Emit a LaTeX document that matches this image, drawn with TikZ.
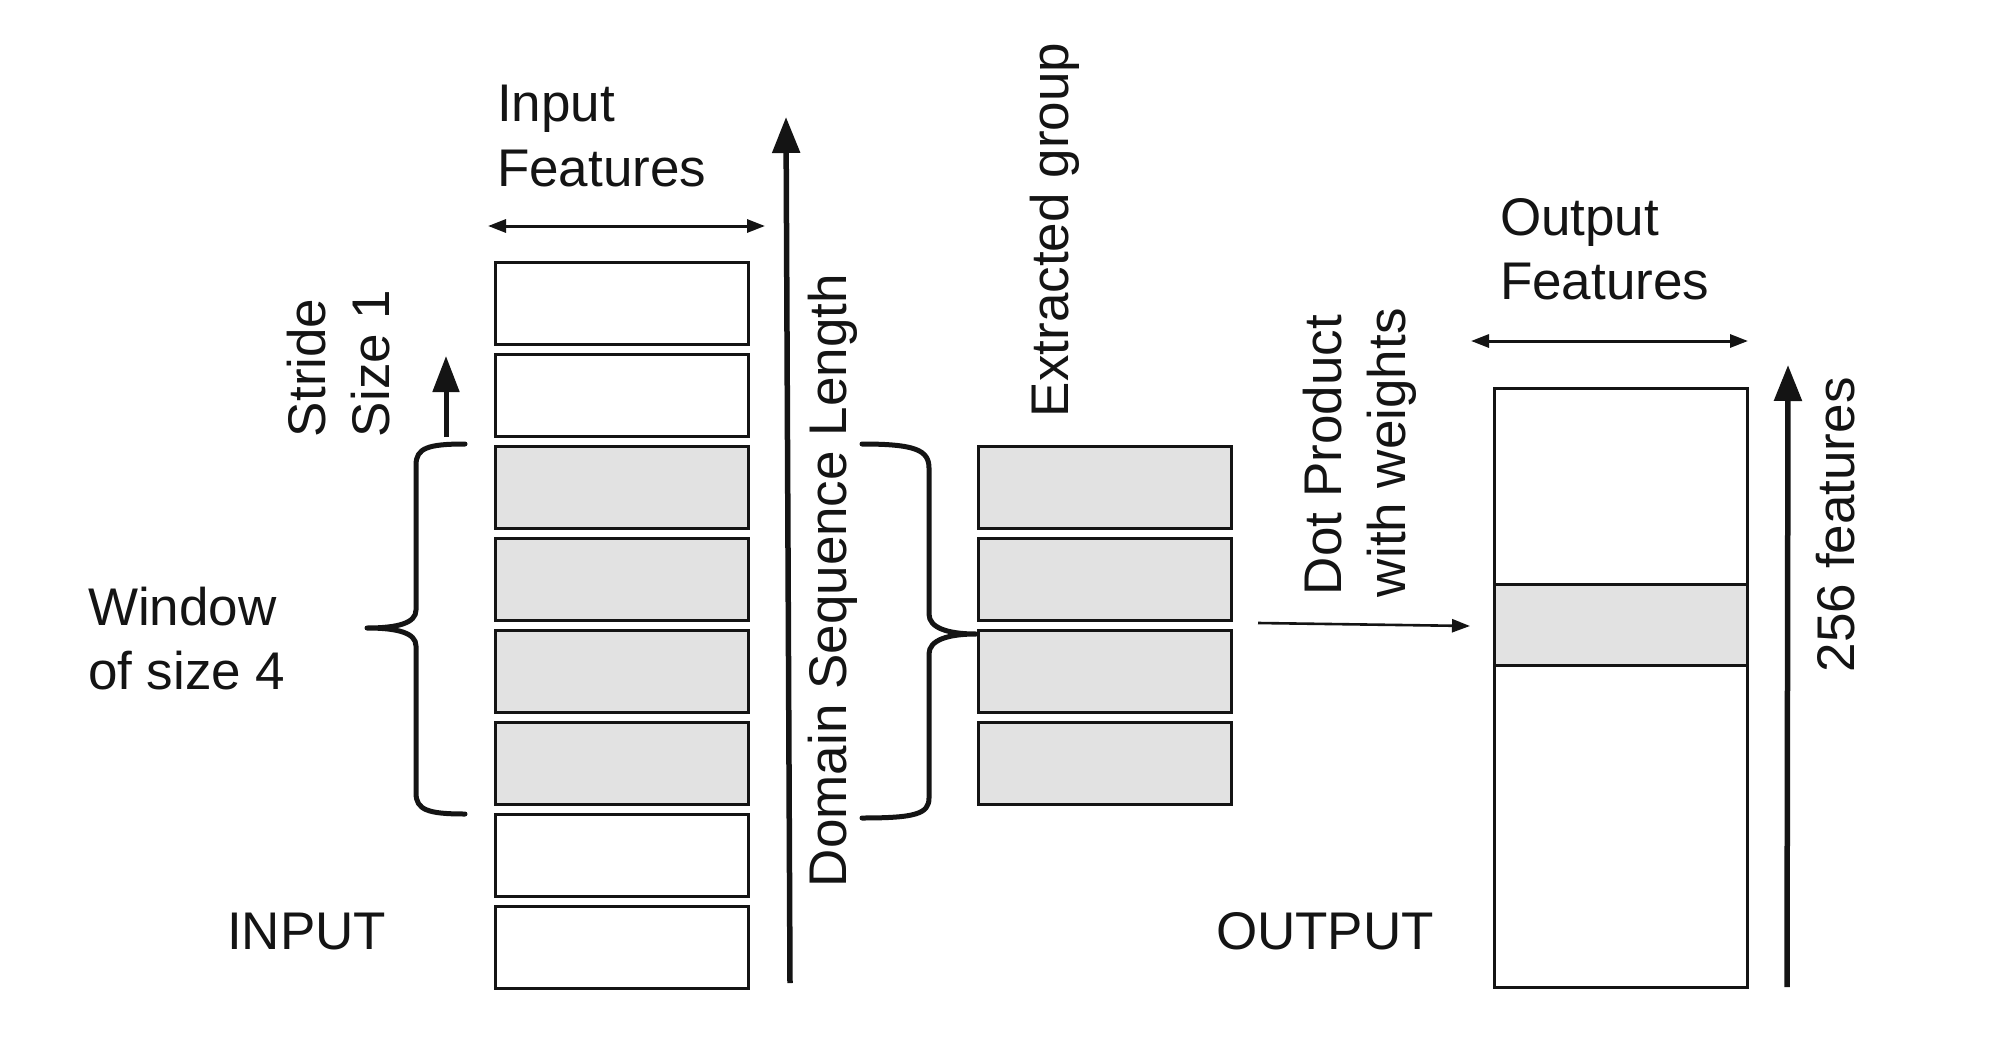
\documentclass[tikz,border=0pt]{standalone}
\usepackage{fontspec}
\setmainfont{Liberation Sans}
\usetikzlibrary{arrows.meta}
\definecolor{ink}{HTML}{141414}
\definecolor{cellgray}{HTML}{E2E2E2}
\begin{document}
\begin{tikzpicture}[x=1pt,y=-1pt,
  lbl/.style={inner sep=0pt, outer sep=0pt, font=\fontsize{53}{64}\selectfont, text=ink},
  hl/.style={lbl, anchor=base west},
  vl/.style={lbl, anchor=base west, rotate=90},
  cell/.style={draw=ink, line width=3.2pt, fill=white, minimum width=252.8pt, minimum height=81.8pt, inner sep=0pt, outer sep=0pt},
  gcell/.style={cell, fill=cellgray},
  outcell/.style={draw=ink, line width=2.8pt, fill=white, minimum width=253.2pt, inner sep=0pt, outer sep=0pt},
  bigarrow/.style={draw=ink, line width=5.5pt, -{Triangle[length=36pt,width=27pt]}},
  midarrow/.style={draw=ink, line width=5pt, -{Triangle[length=36pt,width=26pt]}},
  dimarrow/.style={draw=ink, line width=3pt, {Triangle[length=18pt,width=13pt]}-{Triangle[length=18pt,width=13pt]}},
  thinarrow/.style={draw=ink, line width=2.6pt, -{Triangle[length=18pt,width=13pt]}},
  bracepath/.style={draw=ink, line width=5pt, line cap=round, line join=round}]

\useasboundingbox (0,0) rectangle (1994,1046);
\fill[white] (0,0) rectangle (1994,1046);

% input cells
\node[cell]  (in1) at (622,303.5) {};
\node[cell]  (in2) at (622,395.5) {};
\node[gcell] (in3) at (622,487.5) {};
\node[gcell] (in4) at (622,579.5) {};
\node[gcell] (in5) at (622,671.5) {};
\node[gcell] (in6) at (622,763.5) {};
\node[cell]  (in7) at (622,855.5) {};
\node[cell]  (in8) at (622,947.5) {};

% extracted group
\node[gcell] (ex1) at (1105,487.5) {};
\node[gcell] (ex2) at (1105,579.5) {};
\node[gcell] (ex3) at (1105,671.5) {};
\node[gcell] (ex4) at (1105,763.5) {};

% output
\node[outcell, minimum height=599.2pt] (outbox) at (1621,688) {};
\node[outcell, fill=cellgray, minimum height=81.2pt] (outrow) at (1621,625) {};

% horizontal labels
\node[hl] (inpA) at (497,122) {Input};
\node[hl] (inpB) at (497,186) {Features};
\node[hl] (outA) at (1500,235) {Output};
\node[hl] (outB) at (1500,299) {Features};
\node[hl] (win1) at (88,625) {Window};
\node[hl] (win2) at (88,689) {of size 4};
\node[hl] (inlab) at (227,949) {INPUT};
\node[hl] (outlab) at (1216,949) {OUTPUT};

% rotated labels
\node[vl] (str1) at (325,437) {Stride};
\node[vl] (str2) at (389,437) {Size 1};
\node[vl] (dom) at (846,887) {Domain Sequence Length};
\node[vl] (ext) at (1068,417) {Extracted group};
\node[vl] (dot1) at (1341,595) {Dot Product};
\node[vl] (dot2) at (1405,597) {with weights};
\node[vl] (feat) at (1854,672) {256 features};

% arrow end points
\coordinate (domS) at (790,983);
\coordinate (domE) at (786,117);
\coordinate (strS) at (446,437);
\coordinate (strE) at (446,356);
\coordinate (ofS) at (1787,987);
\coordinate (ofE) at (1788,365);
\coordinate (ifL) at (488,226);
\coordinate (ifR) at (765,226);
\coordinate (ofL) at (1471,341);
\coordinate (ofR) at (1748,341);
\coordinate (dpS) at (1258,623);
\coordinate (dpE) at (1470,626);

\draw[bigarrow] (domS) -- (domE);
\draw[midarrow] (strS) -- (strE);
\draw[bigarrow] (ofS) -- (ofE);
\draw[dimarrow] (ifL) -- (ifR);
\draw[dimarrow] (ofL) -- (ofR);
\draw[thinarrow] (dpS) -- (dpE);

% left brace (window)
\draw[bracepath] (465,444) .. controls (428,444) and (416,448) .. (416,465)
  -- (416,610) .. controls (416,623) and (398,628) .. (367,628)
  .. controls (398,628) and (416,633) .. (416,646)
  -- (416,793) .. controls (416,810) and (428,814) .. (465,814);

% right brace (extracted group)
\draw[bracepath] (862,444) .. controls (915,444) and (929,450) .. (929,468)
  -- (929,614) .. controls (929,628) and (948,634) .. (976,634)
  .. controls (948,634) and (929,640) .. (929,654)
  -- (929,798) .. controls (929,814) and (915,818) .. (862,818);
\end{tikzpicture}
\end{document}
